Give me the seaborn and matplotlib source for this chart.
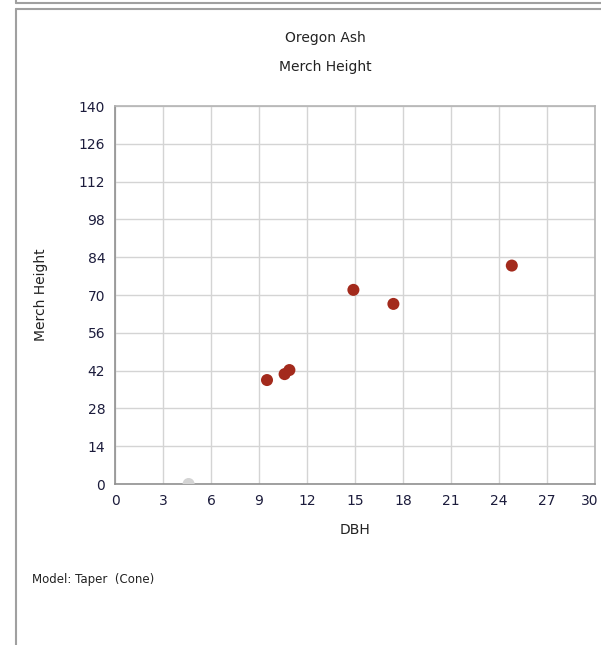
import matplotlib
matplotlib.use("Agg")
import matplotlib.pyplot as plt
import matplotlib.transforms as mtransforms
import seaborn as sns
import pandas as pd
from matplotlib.lines import Line2D

dbh = [9.5, 10.6, 10.9, 14.9, 17.4, 24.8]
merch_height = [38.5, 40.7, 42.2, 71.9, 66.7, 80.9]
excluded_dbh = [4.6]
excluded_height = [0]

x_ticks = [0, 3, 6, 9, 12, 15, 18, 21, 24, 27, 30]
y_ticks = [0, 14, 28, 42, 56, 70, 84, 98, 112, 126, 140]

sns.set_style("white")
plt.rcParams["font.family"] = ["DejaVu Sans"]

df = pd.DataFrame({"DBH": dbh, "Merch Height": merch_height})
df_ex = pd.DataFrame({"DBH": excluded_dbh, "Merch Height": excluded_height})

fig = plt.figure(figsize=(6.01, 6.45), dpi=100)
W, H = 601, 645
ax = fig.add_axes([115 / W, 1 - 484 / H, 480 / W, 378 / H])

sns.scatterplot(data=df_ex, x="DBH", y="Merch Height", ax=ax, color="#d4d4d4",
                s=75, edgecolor="none", zorder=3)
sns.scatterplot(data=df, x="DBH", y="Merch Height", ax=ax, color="#a32a1c",
                s=75, edgecolor="none", zorder=4)

ax.set_xlim(0, 30)
ax.set_ylim(0, 140)
ax.set_xticks(x_ticks)
ax.set_yticks(y_ticks)
ax.grid(True, color="#d4d4d4", linewidth=1)
ax.set_axisbelow(True)
for side, sp in ax.spines.items():
    sp.set_color("#b4b4b4")
    sp.set_linewidth(1.2)
ax.spines["left"].set_color("#909090")
ax.spines["bottom"].set_color("#909090")
ax.tick_params(length=0, labelsize=10, labelcolor="#1c1c3c", pad=7)

# last x label sits a bit inside like in the original
last = ax.get_xticklabels()[-1]
last.set_transform(last.get_transform() +
                   mtransforms.ScaledTranslation(-5 / 100, 0, fig.dpi_scale_trans))

ax.set_xlabel("DBH", fontsize=10, color="#222222")
ax.set_ylabel("Merch Height", fontsize=10, color="#222222")
ax.xaxis.set_label_coords(0.5, -(523 - 484) / 378)
ax.yaxis.set_label_coords(-(115 - 48) / 480, 0.5)

fig.text(325 / W, 1 - 38 / H, "Oregon Ash", ha="center", va="center",
         fontsize=10, color="#222222")
fig.text(325 / W, 1 - 67 / H, "Merch Height", ha="center", va="center",
         fontsize=10, color="#222222")
fig.text(32 / W, 1 - 580 / H, "Model: Taper  (Cone)", ha="left", va="center",
         fontsize=8.5, color="#222222")

# panel frame
frame = "#a0a0a0"
fig.add_artist(Line2D([16 / W, 16 / W], [0, 1 - 9 / H], color=frame, lw=1.5))
fig.add_artist(Line2D([16 / W, 1], [1 - 9 / H, 1 - 9 / H], color=frame, lw=1.5))
fig.add_artist(Line2D([16 / W, 1], [1 - 3 / H, 1 - 3 / H], color=frame, lw=1.5))
fig.add_artist(Line2D([16 / W, 16 / W], [1 - 3 / H, 1], color=frame, lw=1.5))

fig.savefig("out.png", dpi=100)
